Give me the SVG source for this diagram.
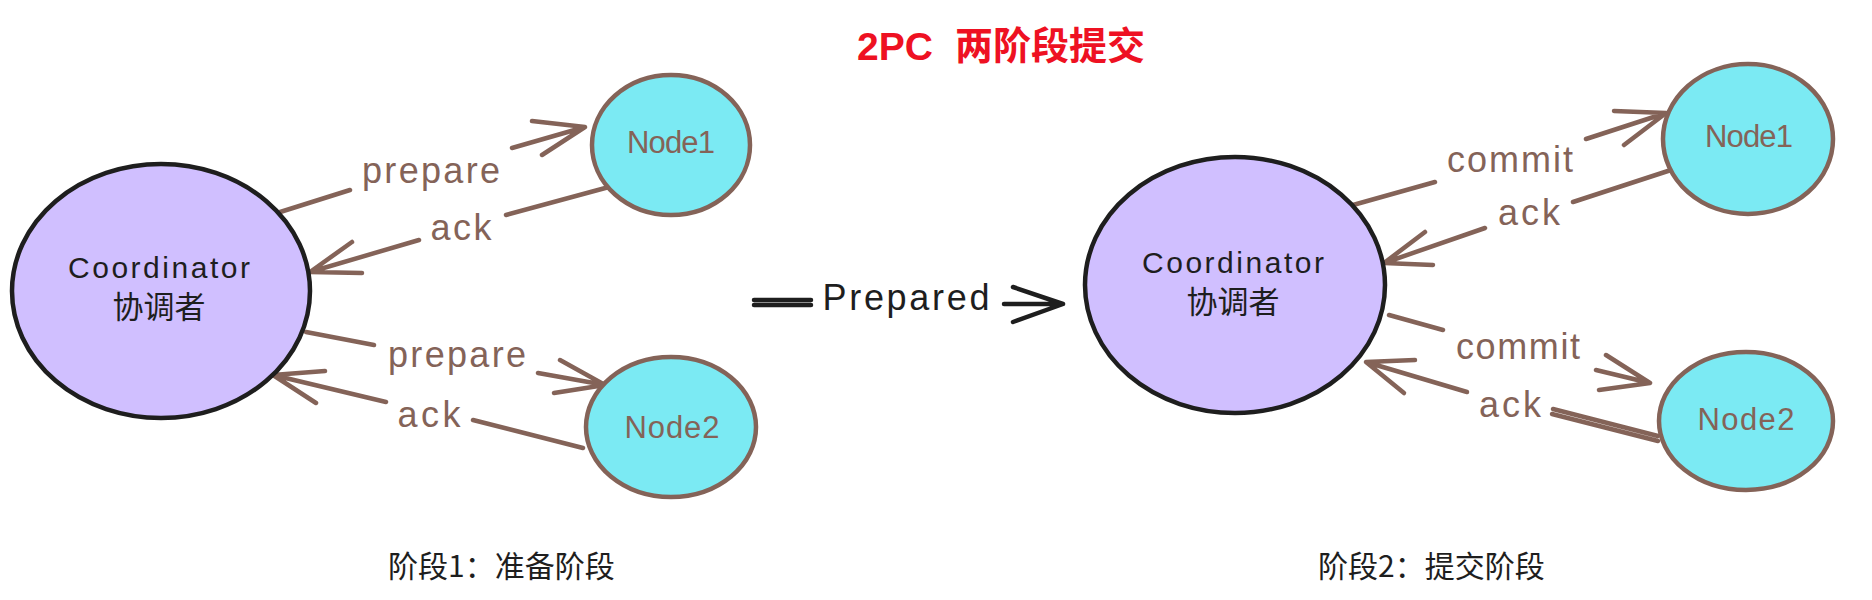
<svg xmlns="http://www.w3.org/2000/svg" width="1872" height="600" viewBox="0 0 1872 600">
<style>
.coord{fill:#d0bfff;stroke:#1e1e1e;stroke-width:4.5}
.node{fill:#7beaf3;stroke:#846358;stroke-width:4.5}
.edge{fill:none;stroke:#846358;stroke-width:4.5;stroke-linecap:round;stroke-linejoin:round}
.edgek{fill:none;stroke:#1e1e1e;stroke-width:4.5;stroke-linecap:round;stroke-linejoin:round}
.elabel{font-family:"Liberation Sans",Arial,sans-serif;font-size:36px;fill:#846358;text-anchor:middle}
.nlabel{font-family:"Liberation Sans",Arial,sans-serif;font-size:31px;fill:#846358;text-anchor:middle}
.clabel{font-family:"Liberation Sans",Arial,sans-serif;font-size:30px;fill:#1e1e1e;text-anchor:middle}
.cjk{font-family:"Liberation Sans","Noto Sans CJK SC",sans-serif;font-size:31px;fill:#1e1e1e;text-anchor:middle}
.caption{font-family:"Noto Sans CJK SC",sans-serif;font-size:30px;fill:#1e1e1e}
.title{font-family:"Liberation Sans","Noto Sans CJK SC",sans-serif;font-weight:bold;fill:#ee1122}
</style>
<text class="title" x="857" y="60" font-size="39">2PC<tspan x="955" y="59" font-size="38">两阶段提交</tspan></text>
<g id="connectors">
  <g id="e1">
    <path class="edge" d="M277,213 L350,190 M512,148 L585,127 M532,121 L585,127 L542,155"/>
    <text class="elabel" x="431" y="183" textLength="138">prepare</text>
  </g>
  <g id="e2">
    <path class="edge" d="M609,187 L506,215 M419,240 L310,272 M352,242 L310,272 L362,273"/>
    <text class="elabel" x="461" y="240" textLength="61">ack</text>
  </g>
  <g id="e3">
    <path class="edge" d="M306,332 L374,345 M538,373 L605,385 M560,360 L605,385 L554,393"/>
    <text class="elabel" x="457" y="367" textLength="138">prepare</text>
  </g>
  <g id="e4">
    <path class="edge" d="M583,448 L473,420 M386,402 L273,375 M325,371 L273,375 L316,403"/>
    <text class="elabel" x="429" y="427" textLength="63">ack</text>
  </g>
  <g id="e5">
    <path class="edge" d="M1353,205 L1435,182 M1586,139 L1666,113 M1614,111 L1666,113 L1624,145"/>
    <text class="elabel" x="1510" y="172" textLength="126">commit</text>
  </g>
  <g id="e6">
    <path class="edge" d="M1671,170 L1573,202 M1485,228 L1384,263 M1425,232 L1384,263 L1433,265"/>
    <text class="elabel" x="1529" y="225" textLength="62">ack</text>
  </g>
  <g id="e7">
    <path class="edge" d="M1389,315 L1443,330 M1596,370 L1650,383 M1606,355 L1650,383 L1599,390"/>
    <text class="elabel" x="1518" y="359" textLength="124">commit</text>
  </g>
  <g id="e8">
    <path class="edge" stroke-width="2.5" d="M1658,441 L1552,414 M1658,436 L1553,409"/>
    <path class="edge" d="M1467,392 L1366,362 M1415,360 L1366,362 L1404,393"/>
    <text class="elabel" x="1510" y="417" textLength="62">ack</text>
  </g>
  <g id="e9">
    <path class="edgek" stroke-width="2.5" d="M754,300 L811,300 M754,305 L811,305"/>
    <path class="edgek" d="M1004,304 L1063,304 M1013,287 L1063,304 L1013,322"/>
    <text x="906" y="310" font-family="'Liberation Sans',Arial,sans-serif" font-size="36" fill="#1e1e1e" text-anchor="middle" textLength="167">Prepared</text>
  </g>
</g>
<g id="coordinator1">
  <ellipse class="coord" cx="161" cy="291" rx="149" ry="127"/>
  <text class="clabel" x="159" y="278" textLength="182">Coordinator</text>
  <text class="cjk" x="159" y="318">协调者</text>
</g>
<g id="node1a">
  <ellipse class="node" cx="671" cy="145" rx="79" ry="70"/>
  <text class="nlabel" x="671" y="153" textLength="88">Node1</text>
</g>
<g id="node2a">
  <ellipse class="node" cx="671" cy="427" rx="85" ry="70"/>
  <text class="nlabel" x="672" y="438" textLength="95">Node2</text>
</g>
<g id="coordinator2">
  <ellipse class="coord" cx="1235" cy="285" rx="150" ry="128"/>
  <text class="clabel" x="1233" y="273" textLength="182">Coordinator</text>
  <text class="cjk" x="1233" y="313">协调者</text>
</g>
<g id="node1b">
  <ellipse class="node" cx="1748" cy="139" rx="85" ry="75"/>
  <text class="nlabel" x="1749" y="147" textLength="88">Node1</text>
</g>
<g id="node2b">
  <ellipse class="node" cx="1746" cy="421" rx="87" ry="69"/>
  <text class="nlabel" x="1746" y="430" textLength="97">Node2</text>
</g>
<g id="caption1">
  <text class="caption" x="388" y="577">阶段1：准备阶段</text>
</g>
<g id="caption2">
  <text class="caption" x="1318" y="577">阶段2：提交阶段</text>
</g>
</svg>
